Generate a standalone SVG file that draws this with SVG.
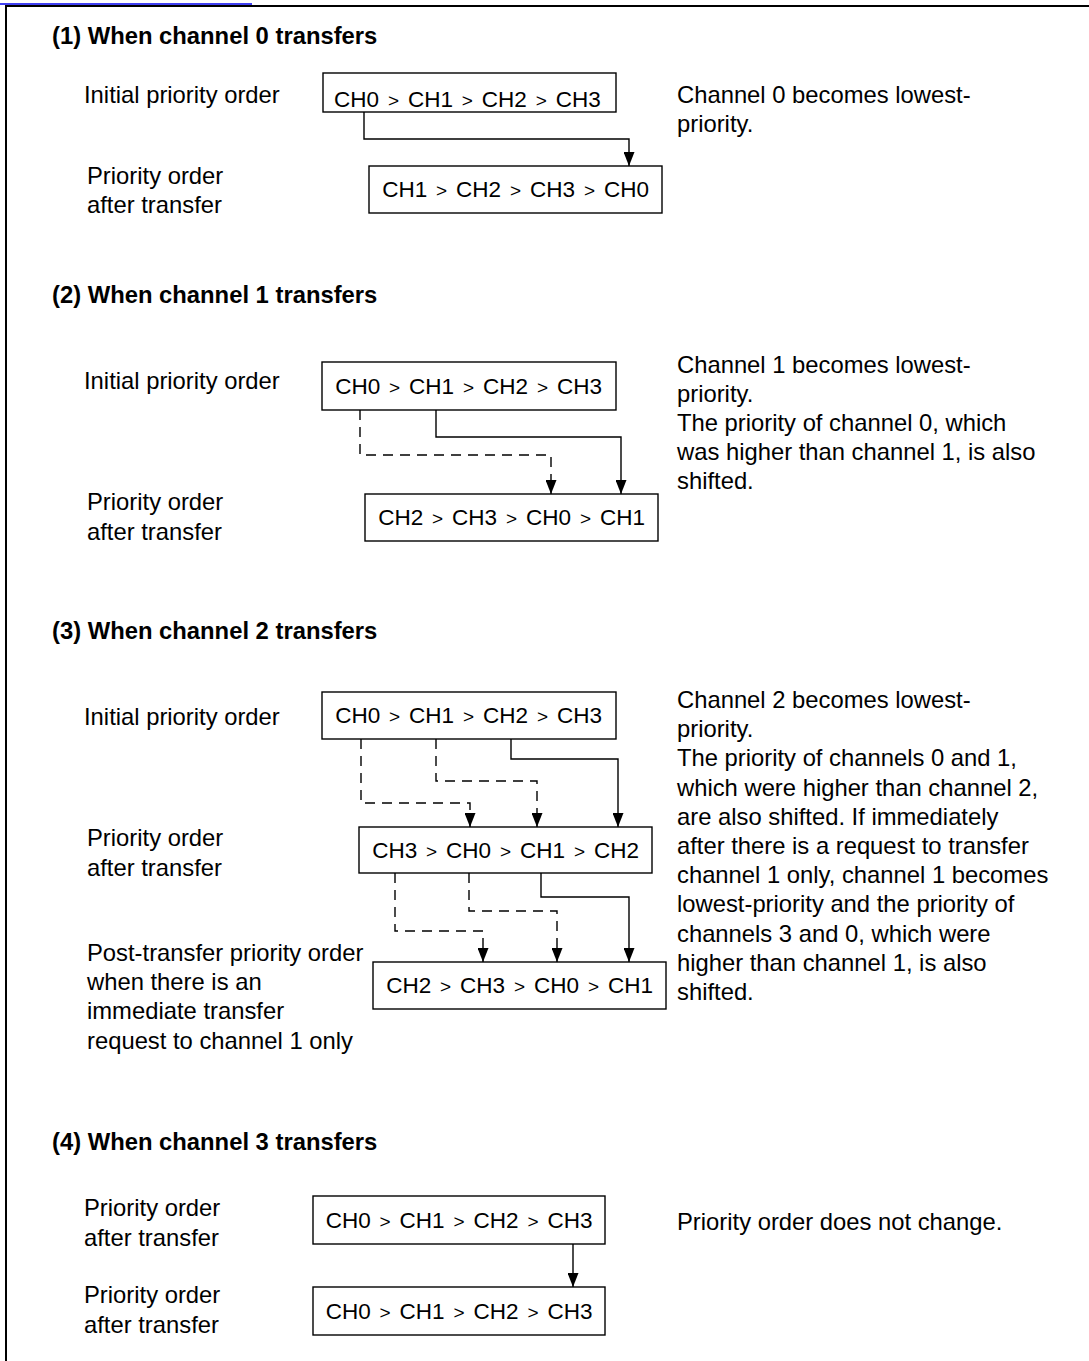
<svg xmlns="http://www.w3.org/2000/svg" width="1089" height="1361" viewBox="0 0 1089 1361">
<style>
text{font-family:"Liberation Sans",Arial,sans-serif;fill:#000}
.lbl{font-size:23.8px}
.hd{font-size:23.8px;font-weight:bold}
.bx{font-size:22.5px}
.gt{font-size:19px}
.box{fill:#fff;stroke:#000;stroke-width:1.4}
.ln{fill:none;stroke:#000;stroke-width:1.4;marker-end:url(#ah)}
.dl{fill:none;stroke:#000;stroke-width:1.4;stroke-dasharray:10,7;marker-end:url(#ah)}
</style>
<defs>
<marker id="ah" markerUnits="userSpaceOnUse" markerWidth="14" markerHeight="11" viewBox="0 0 14 11" refX="14" refY="5.5" orient="auto">
<path d="M0,0 L14,5.5 L0,11 z" fill="#000"/>
</marker>
</defs>
<rect width="1089" height="1361" fill="#fff"/>
<g id="frame">
<line x1="0" y1="4" x2="252" y2="4" stroke="#0000ee" stroke-width="1.5"/>
<line x1="5" y1="6" x2="1089" y2="6" stroke="#000" stroke-width="2"/>
<line x1="6" y1="5" x2="6" y2="1361" stroke="#000" stroke-width="2"/>
</g>

<g id="section1-text">
<text class="hd" x="52" y="44">(1) When channel 0 transfers</text>
<text class="lbl" x="84" y="103">Initial priority order</text>
<text class="lbl" x="87" y="184">Priority order</text>
<text class="lbl" x="87" y="213">after transfer</text>
<text class="lbl" x="677" y="103">Channel 0 becomes lowest-</text>
<text class="lbl" x="677" y="132">priority.</text>
</g>

<g id="s1a" transform="translate(323,73)">
<rect class="box" width="293" height="39"/>
<text class="bx" y="34"><tspan x="11">CH0</tspan><tspan class="gt" x="64.9">&gt;</tspan><tspan x="84.9">CH1</tspan><tspan class="gt" x="138.8">&gt;</tspan><tspan x="158.8">CH2</tspan><tspan class="gt" x="212.7">&gt;</tspan><tspan x="232.7">CH3</tspan></text>
</g>
<g id="s1b" transform="translate(369,166)">
<rect class="box" width="293" height="47"/>
<text class="bx" y="31"><tspan x="13.2">CH1</tspan><tspan class="gt" x="67.1">&gt;</tspan><tspan x="87.1">CH2</tspan><tspan class="gt" x="141">&gt;</tspan><tspan x="161">CH3</tspan><tspan class="gt" x="214.9">&gt;</tspan><tspan x="234.9">CH0</tspan></text>
</g>

<g id="section2-text">
<text class="hd" x="52" y="303">(2) When channel 1 transfers</text>
<text class="lbl" x="84" y="389">Initial priority order</text>
<text class="lbl" x="87" y="510">Priority order</text>
<text class="lbl" x="87" y="540">after transfer</text>
<text class="lbl" x="677" y="373">Channel 1 becomes lowest-</text>
<text class="lbl" x="677" y="402">priority.</text>
<text class="lbl" x="677" y="431">The priority of channel 0, which</text>
<text class="lbl" x="677" y="460">was higher than channel 1, is also</text>
<text class="lbl" x="677" y="489">shifted.</text>
</g>

<g id="s2a" transform="translate(322,362)">
<rect class="box" width="294" height="48"/>
<text class="bx" y="32"><tspan x="13.2">CH0</tspan><tspan class="gt" x="67.1">&gt;</tspan><tspan x="87.1">CH1</tspan><tspan class="gt" x="141">&gt;</tspan><tspan x="161">CH2</tspan><tspan class="gt" x="214.9">&gt;</tspan><tspan x="234.9">CH3</tspan></text>
</g>
<g id="s2b" transform="translate(365,494)">
<rect class="box" width="293" height="47"/>
<text class="bx" y="31"><tspan x="13.2">CH2</tspan><tspan class="gt" x="67.1">&gt;</tspan><tspan x="87.1">CH3</tspan><tspan class="gt" x="141">&gt;</tspan><tspan x="161">CH0</tspan><tspan class="gt" x="214.9">&gt;</tspan><tspan x="234.9">CH1</tspan></text>
</g>

<g id="section3-text">
<text class="hd" x="52" y="639">(3) When channel 2 transfers</text>
<text class="lbl" x="84" y="725">Initial priority order</text>
<text class="lbl" x="87" y="846">Priority order</text>
<text class="lbl" x="87" y="876">after transfer</text>
<text class="lbl" x="87" y="961">Post-transfer priority order</text>
<text class="lbl" x="87" y="990">when there is an</text>
<text class="lbl" x="87" y="1019">immediate transfer</text>
<text class="lbl" x="87" y="1049">request to channel 1 only</text>
<text class="lbl" x="677" y="708">Channel 2 becomes lowest-</text>
<text class="lbl" x="677" y="737">priority.</text>
<text class="lbl" x="677" y="766">The priority of channels 0 and 1,</text>
<text class="lbl" x="677" y="796">which were higher than channel 2,</text>
<text class="lbl" x="677" y="825">are also shifted. If immediately</text>
<text class="lbl" x="677" y="854">after there is a request to transfer</text>
<text class="lbl" x="677" y="883">channel 1 only, channel 1 becomes</text>
<text class="lbl" x="677" y="912">lowest-priority and the priority of</text>
<text class="lbl" x="677" y="942">channels 3 and 0, which were</text>
<text class="lbl" x="677" y="971">higher than channel 1, is also</text>
<text class="lbl" x="677" y="1000">shifted.</text>
</g>

<g id="s3a" transform="translate(322,692)">
<rect class="box" width="294" height="47"/>
<text class="bx" y="31"><tspan x="13.2">CH0</tspan><tspan class="gt" x="67.1">&gt;</tspan><tspan x="87.1">CH1</tspan><tspan class="gt" x="141">&gt;</tspan><tspan x="161">CH2</tspan><tspan class="gt" x="214.9">&gt;</tspan><tspan x="234.9">CH3</tspan></text>
</g>
<g id="s3b" transform="translate(359,827)">
<rect class="box" width="293" height="46"/>
<text class="bx" y="31"><tspan x="13.2">CH3</tspan><tspan class="gt" x="67.1">&gt;</tspan><tspan x="87.1">CH0</tspan><tspan class="gt" x="141">&gt;</tspan><tspan x="161">CH1</tspan><tspan class="gt" x="214.9">&gt;</tspan><tspan x="234.9">CH2</tspan></text>
</g>
<g id="s3c" transform="translate(373,962)">
<rect class="box" width="293" height="47"/>
<text class="bx" y="31"><tspan x="13.2">CH2</tspan><tspan class="gt" x="67.1">&gt;</tspan><tspan x="87.1">CH3</tspan><tspan class="gt" x="141">&gt;</tspan><tspan x="161">CH0</tspan><tspan class="gt" x="214.9">&gt;</tspan><tspan x="234.9">CH1</tspan></text>
</g>

<g id="section4-text">
<text class="hd" x="52" y="1150">(4) When channel 3 transfers</text>
<text class="lbl" x="84" y="1216">Priority order</text>
<text class="lbl" x="84" y="1246">after transfer</text>
<text class="lbl" x="84" y="1303">Priority order</text>
<text class="lbl" x="84" y="1333">after transfer</text>
<text class="lbl" x="677" y="1230">Priority order does not change.</text>
</g>

<g id="s4a" transform="translate(313,1196)">
<rect class="box" width="292" height="48"/>
<text class="bx" y="32"><tspan x="12.7">CH0</tspan><tspan class="gt" x="66.6">&gt;</tspan><tspan x="86.6">CH1</tspan><tspan class="gt" x="140.5">&gt;</tspan><tspan x="160.5">CH2</tspan><tspan class="gt" x="214.4">&gt;</tspan><tspan x="234.4">CH3</tspan></text>
</g>
<g id="s4b" transform="translate(313,1287)">
<rect class="box" width="292" height="48"/>
<text class="bx" y="32"><tspan x="12.7">CH0</tspan><tspan class="gt" x="66.6">&gt;</tspan><tspan x="86.6">CH1</tspan><tspan class="gt" x="140.5">&gt;</tspan><tspan x="160.5">CH2</tspan><tspan class="gt" x="214.4">&gt;</tspan><tspan x="234.4">CH3</tspan></text>
</g>

<g id="connectors">
<path class="ln" d="M364,112 V139 H629 V166"/>
<path class="ln" d="M436,410 V437 H621 V494"/>
<path class="dl" d="M360,410 V455 H551 V494"/>
<path class="dl" d="M361,739 V803 H470 V827"/>
<path class="dl" d="M436,739 V781 H537 V827"/>
<path class="ln" d="M511,739 V759 H618 V827"/>
<path class="dl" d="M395,873 V931 H483 V962"/>
<path class="dl" d="M469,873 V911 H557 V962"/>
<path class="ln" d="M541,873 V897 H629 V962"/>
<path class="ln" d="M573,1244 V1287"/>
</g>
</svg>
